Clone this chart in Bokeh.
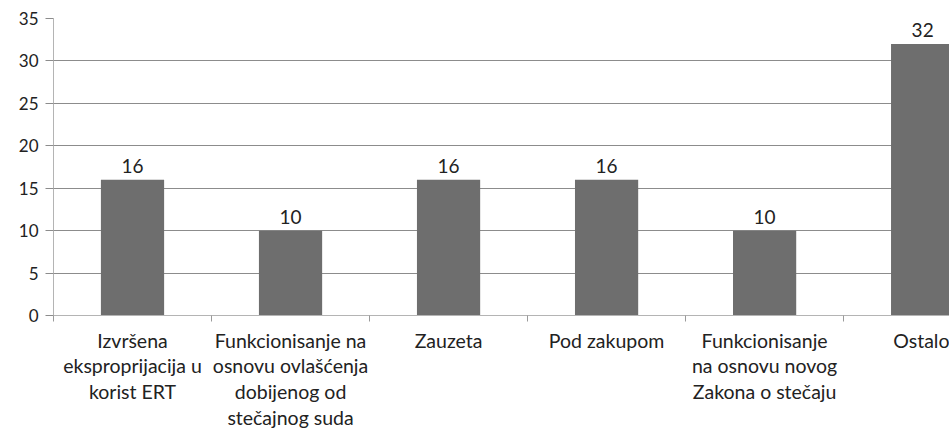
from bokeh.plotting import figure
from bokeh.models import Range1d, FixedTicker, ColumnDataSource
from bokeh.core.properties import value
from bokeh.embed import file_html
from bokeh.resources import INLINE

categories = [
    "Izvršena\neksproprijacija u\nkorist ERT",
    "Funkcionisanje na\nosnovu ovlašćenja\ndobijenog od\nstečajnog suda",
    "Zauzeta",
    "Pod zakupom",
    "Funkcionisanje\nna osnovu novog\nZakona o stečaju",
    "Ostalo",
]
values = [16, 10, 16, 16, 10, 32]
y_ticks = [0, 5, 10, 15, 20, 25, 30, 35]

n = len(categories)
centers = [i + 0.5 for i in range(n)]
bounds = [float(i) for i in range(n + 1)]

src = ColumnDataSource(dict(x=centers, top=values, lbl=[str(v) for v in values]))

FONT = "Lato"
p = figure(width=949, height=431, output_backend="svg", toolbar_location=None,
           x_range=Range1d(0, 5.67), y_range=Range1d(0, 35),
           min_border_left=53, min_border_right=0, min_border_top=18, min_border_bottom=111)
p.outline_line_color = None
p.background_fill_color = "white"

p.vbar(x="x", top="top", width=0.4, bottom=0, source=src, color="#6e6e6e", line_color=None)
p.text(x="x", y="top", text="lbl", source=src, text_align="center", text_baseline="alphabetic",
       y_offset=-14, text_font=value(FONT), text_font_size="19px", text_color="#222222")

p.xgrid.grid_line_color = None
p.ygrid.grid_line_color = "#8c8c8c"
p.ygrid.ticker = FixedTicker(ticks=y_ticks)

xa = p.xaxis[0]
xa.ticker = FixedTicker(ticks=centers, minor_ticks=bounds)
xa.major_label_overrides = {c: lab for c, lab in zip(centers, categories)}
xa.major_tick_line_color = None
xa.major_tick_in = 0
xa.major_tick_out = 0
xa.minor_tick_line_color = "#9a9a9a"
xa.minor_tick_in = 0
xa.minor_tick_out = 6
xa.axis_line_color = "#b4b4b4"
xa.major_label_text_font = FONT
xa.major_label_text_font_size = "19.5px"
xa.major_label_text_color = "#222222"
xa.major_label_text_line_height = 1.12
xa.major_label_standoff = 7

ya = p.yaxis[0]
ya.ticker = FixedTicker(ticks=y_ticks)
ya.axis_line_color = "#b4b4b4"
ya.major_tick_line_color = "#8c8c8c"
ya.major_tick_in = 0
ya.major_tick_out = 8
ya.minor_tick_line_color = None
ya.major_label_text_font = FONT
ya.major_label_text_font_size = "17px"
ya.major_label_text_color = "#222222"
ya.major_label_standoff = 7

open("out.html", "w").write(file_html(p, INLINE))
